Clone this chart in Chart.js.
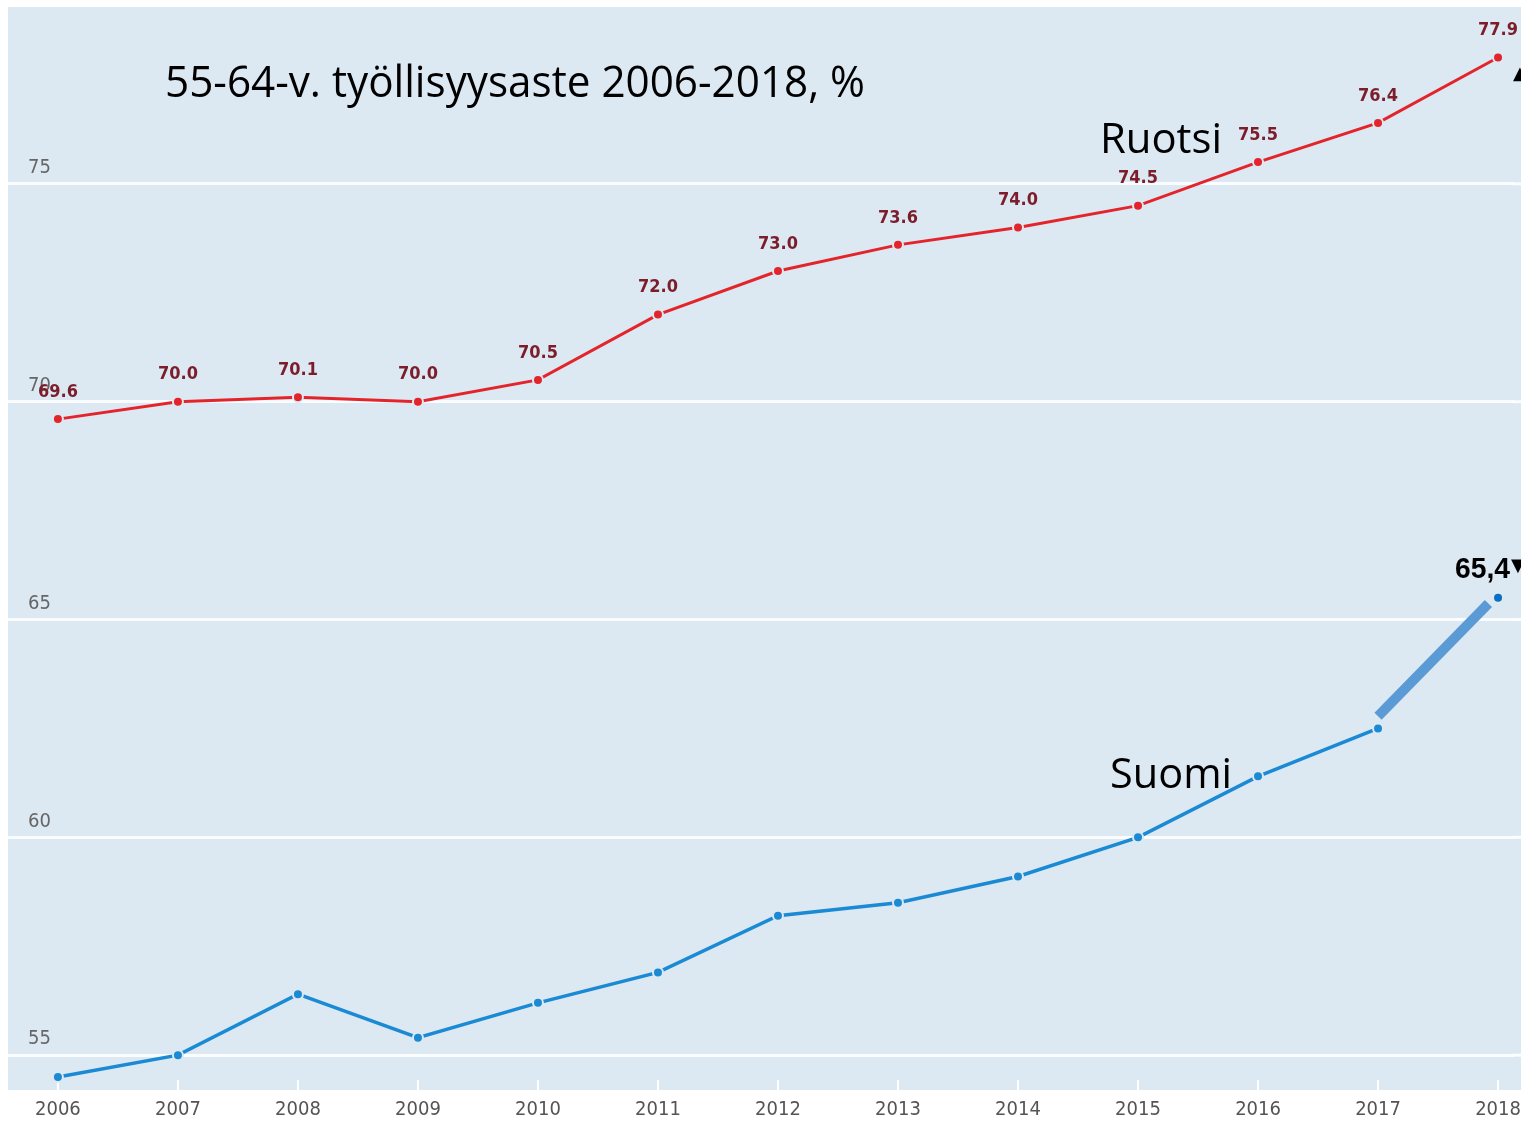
<!DOCTYPE html>
<html>
<head>
<meta charset="utf-8">
<script src="https://cdn.jsdelivr.net/npm/chart.js@4/dist/chart.umd.min.js"></script>
<style>
  html, body { margin: 0; padding: 0; background: #fff; }
  canvas { display: block; }
</style>
</head>
<body>
<canvas id="employmentChart" width="1521" height="1124"></canvas>
<script>
// data
const years = [2006, 2007, 2008, 2009, 2010, 2011, 2012, 2013, 2014, 2015, 2016, 2017, 2018];
const ruotsi = [69.6, 70.0, 70.1, 70.0, 70.5, 72.0, 73.0, 73.6, 74.0, 74.5, 75.5, 76.4, 77.9];
const suomi = [54.5, 55.0, 56.4, 55.4, 56.2, 56.9, 58.2, 58.5, 59.1, 60.0, 61.4, 62.5, 65.5];
// thick bar the slide author put over the last Suomi step
const suomiHighlightX = [2017.0, 2017.92];
const suomiHighlightY = [62.78, 65.37];
const yTicks = [55, 60, 65, 70, 75];

const narrow = "'Liberation Sans Narrow', 'DejaVu Sans Condensed', sans-serif";
const plotBg = '#dde9f2';
const last = years.length - 1;

const ctx = document.getElementById('employmentChart').getContext('2d');

// text squeezed/stretched to the width it has on the slide
const drawFitted = (c, text, font, x, baseline, width, color) => {
  c.save();
  c.font = font;
  c.fillStyle = color;
  c.textBaseline = 'alphabetic';
  const w = c.measureText(text).width;
  c.translate(x, baseline);
  c.scale(width / w, 1);
  c.fillText(text, 0, 0);
  c.restore();
};

// plot background runs out to the right edge of the slide
const plotBackground = {
  id: 'plotBackground',
  beforeDraw(chart) {
    const { ctx: c, chartArea: a } = chart;
    c.save();
    c.fillStyle = plotBg;
    c.fillRect(a.left, a.top, chart.width - a.left, a.bottom - a.top);
    c.strokeStyle = 'rgba(255,255,255,0.85)';
    c.lineWidth = 3;
    yTicks.forEach(v => {
      const py = chart.scales.y.getPixelForValue(v);
      c.beginPath();
      c.moveTo(a.right - 1, py);
      c.lineTo(chart.width, py);
      c.stroke();
    });
    c.restore();
  }
};

const xTickMarks = {
  id: 'xTickMarks',
  beforeDatasetsDraw(chart) {
    const { ctx: c, chartArea: a, scales: { x } } = chart;
    c.save();
    c.strokeStyle = '#ffffff';
    c.lineWidth = 2;
    years.forEach(yr => {
      const px = x.getPixelForValue(yr);
      c.beginPath();
      c.moveTo(px, a.bottom - 10);
      c.lineTo(px, a.bottom);
      c.stroke();
    });
    c.restore();
  }
};

const valueLabels = {
  id: 'valueLabels',
  afterDatasetsDraw(chart) {
    const c = chart.ctx;
    const meta = chart.getDatasetMeta(0);
    c.save();
    c.font = "bold 18px " + narrow;
    c.fillStyle = '#7b1d2a';
    c.textAlign = 'center';
    c.textBaseline = 'middle';
    meta.data.forEach((pt, i) => {
      c.fillText(ruotsi[i].toFixed(1), pt.x, pt.y - 27);
    });
    c.restore();
  }
};

const slideText = {
  id: 'slideText',
  afterDraw(chart) {
    const c = chart.ctx;
    drawFitted(c, '55-64-v. työllisyysaste 2006-2018, %', "44px 'Open Sans'", 165, 97, 700, '#000');
    drawFitted(c, 'Ruotsi', "42px 'Open Sans'", 1100, 153, 122, '#000');
    drawFitted(c, 'Suomi', "42px 'Open Sans'", 1110, 788, 122, '#000');
    drawFitted(c, '65,4', "bold 30px 'Liberation Sans'", 1455, 578, 55, '#000');
    c.save();
    c.font = "bold 18px 'DejaVu Sans'";
    c.fillStyle = '#000';
    c.fillText('▼', 1511, 571);
    c.fillText('▲', 1513, 79);
    c.restore();
  }
};

const employmentChart = new Chart(ctx, {
  type: 'line',
  data: {
    datasets: [
      {
        label: 'Ruotsi',
        data: years.map((yr, i) => ({ x: yr, y: ruotsi[i] })),
        borderColor: '#e3242b',
        borderWidth: 3,
        pointRadius: 5,
        pointBackgroundColor: '#e3242b',
        pointBorderColor: plotBg,
        pointBorderWidth: 2,
        tension: 0,
        order: 1
      },
      {
        label: 'Suomi',
        data: years.map((yr, i) => ({ x: yr, y: suomi[i] })),
        borderColor: '#1b8ad4',
        borderWidth: 3.5,
        segment: {
          borderColor: s => s.p1DataIndex === last ? 'rgba(0,0,0,0)' : undefined
        },
        pointRadius: p => p.dataIndex === last ? 4 : 5,
        pointBackgroundColor: p => p.dataIndex === last ? '#0b6fc0' : '#1b8ad4',
        pointBorderColor: plotBg,
        pointBorderWidth: p => p.dataIndex === last ? 0 : 2,
        tension: 0,
        order: 2
      },
      {
        label: 'Suomi 2017-2018',
        data: suomiHighlightX.map((xv, i) => ({ x: xv, y: suomiHighlightY[i] })),
        borderColor: '#5b9bd5',
        borderWidth: 10,
        borderCapStyle: 'butt',
        pointRadius: 0,
        order: 0
      }
    ]
  },
  options: {
    responsive: false,
    animation: false,
    layout: { padding: { left: 8, top: 6, right: 0, bottom: 2 } },
    plugins: {
      legend: { display: false },
      tooltip: { enabled: false }
    },
    scales: {
      x: {
        type: 'linear',
        min: 2005.584,
        max: 2018.133,
        afterBuildTicks: s => { s.ticks = years.map(v => ({ value: v })); },
        afterFit: s => { s.paddingLeft = 0; s.paddingRight = 0; s.height = 32; },
        ticks: {
          callback: v => String(v),
          color: '#555',
          font: { family: narrow, size: 20 },
          padding: 8,
          maxRotation: 0,
          autoSkip: false
        },
        grid: { display: false, drawTicks: false },
        border: { display: false }
      },
      y: {
        min: 54.2,
        max: 79.06,
        afterBuildTicks: s => { s.ticks = yTicks.map(v => ({ value: v })); },
        afterFit: s => { s.paddingTop = 0; s.paddingBottom = 0; s.paddingLeft = 0; s.paddingRight = 0; s.width = 0; },
        ticks: {
          mirror: true,
          padding: 20,
          labelOffset: -16,
          color: '#666',
          font: { family: narrow, size: 20 }
        },
        grid: { color: 'rgba(255,255,255,0.85)', lineWidth: 3, drawTicks: false },
        border: { display: false }
      }
    }
  },
  plugins: [plotBackground, xTickMarks, valueLabels, slideText]
});
</script>
</body>
</html>
